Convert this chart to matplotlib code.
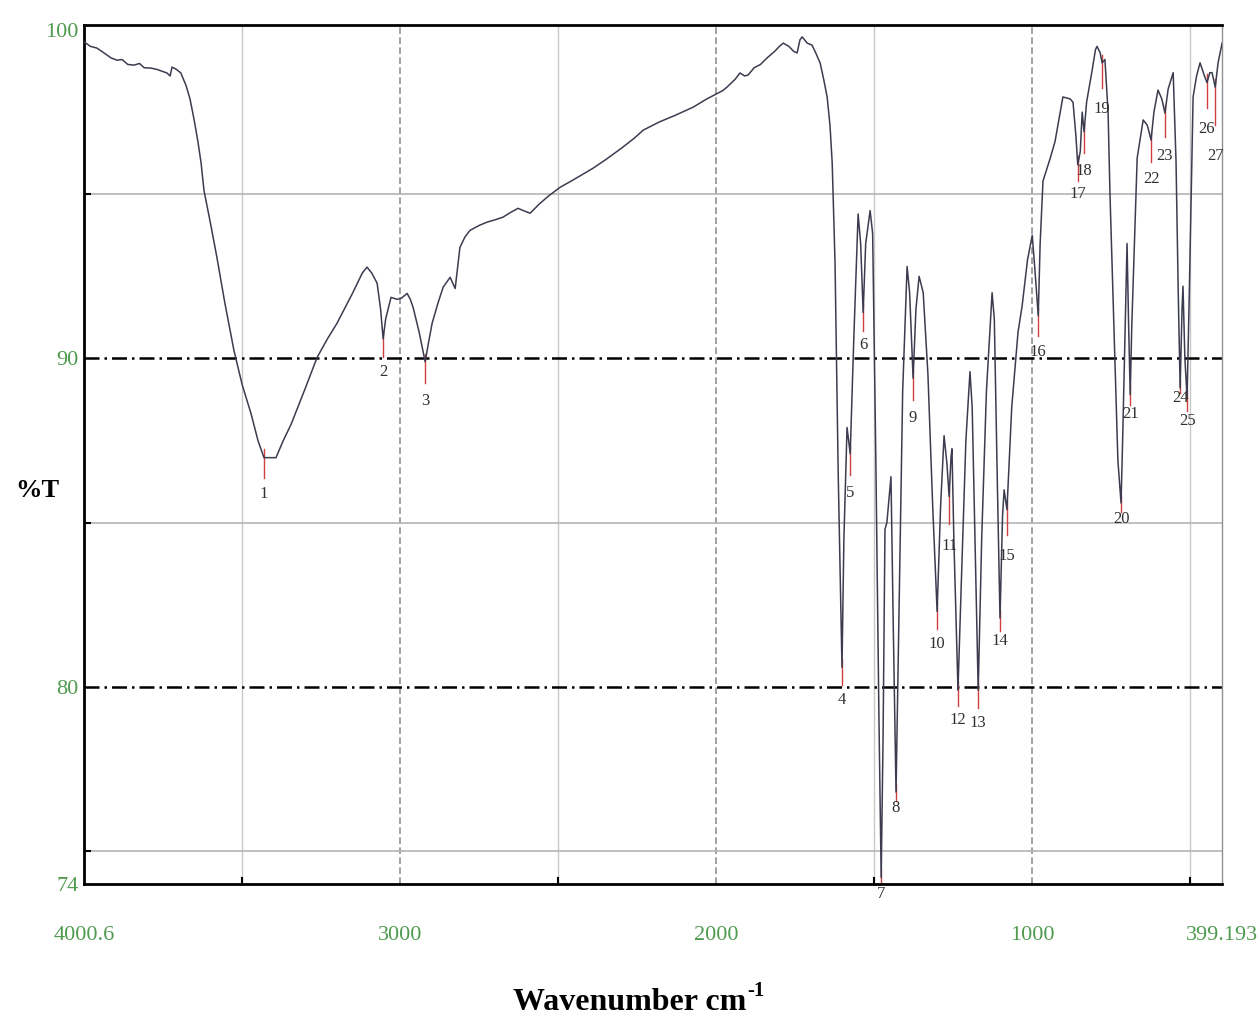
import matplotlib
matplotlib.use('Agg')
import matplotlib.pyplot as plt
import numpy as np

# IR spectrum: wavenumber (cm-1) and %T
wn = [4000.6, 3980, 3960, 3937, 3915, 3896, 3880, 3862, 3842, 3825, 3810, 3789, 3770, 3755,
      3738, 3728, 3722, 3708, 3694, 3686, 3678, 3665, 3652, 3640, 3630, 3621, 3600, 3580,
      3555, 3526, 3500, 3472, 3450, 3431, 3393, 3370, 3345, 3300, 3263, 3230, 3200, 3150,
      3120, 3105, 3090, 3073, 3062, 3054, 3046, 3029, 3010, 2997, 2978, 2968, 2959, 2940,
      2921, 2910, 2899, 2880, 2864, 2842, 2826, 2818, 2811, 2795, 2779, 2750, 2725, 2700,
      2675, 2650, 2627, 2610, 2589, 2560, 2530, 2494, 2450, 2390, 2350, 2300, 2260, 2231,
      2180, 2130, 2073, 2030, 2000, 1980, 1966, 1940, 1925, 1910, 1899, 1880, 1860, 1839,
      1815, 1800, 1788, 1770, 1755, 1744, 1735, 1728, 1712, 1697, 1685, 1671, 1660, 1649,
      1640, 1633, 1624, 1614, 1602, 1596, 1586, 1576, 1565, 1551, 1543, 1535, 1527, 1513,
      1505, 1495, 1485, 1478, 1472, 1466, 1460, 1447, 1440, 1431, 1422, 1410, 1396, 1388,
      1377, 1368, 1358, 1345, 1330, 1315, 1301, 1290, 1279, 1270, 1263, 1257, 1254, 1248,
      1235, 1225, 1210, 1197, 1190, 1180, 1171, 1160, 1145, 1127, 1120, 1110, 1102, 1094,
      1089, 1080, 1065, 1045, 1032, 1015, 1000, 990, 981, 975, 966, 943, 928, 903, 880,
      871, 862, 856, 848, 842, 836, 828, 810, 800, 795, 785, 779, 770, 760, 754, 738, 729,
      719, 714, 700, 695, 690, 685, 668, 649, 636, 624, 615, 602, 590, 580, 570, 554, 545,
      538, 532, 526, 523, 517, 510, 503, 491, 480, 469, 455, 447, 438, 431, 421, 412, 399.193]
T = [99.64, 99.5, 99.45, 99.3, 99.15, 99.08, 99.1, 98.95, 98.93, 98.98, 98.85, 98.84, 98.8, 98.75,
     98.69, 98.6, 98.87, 98.8, 98.69, 98.5, 98.32, 97.9, 97.26, 96.6, 95.95, 95.12, 94.1, 93.08,
     91.7, 90.24, 89.2, 88.32, 87.5, 86.98, 86.98, 87.5, 88.0, 89.1, 90.03, 90.6, 91.07, 92.0,
     92.6, 92.78, 92.6, 92.29, 91.5, 90.6, 91.2, 91.86, 91.8, 91.83, 91.98, 91.8, 91.55, 90.8,
     89.9, 90.5, 91.07, 91.7, 92.17, 92.47, 92.13, 92.8, 93.38, 93.7, 93.9, 94.05, 94.15, 94.22,
     94.3, 94.45, 94.57, 94.5, 94.42, 94.7, 94.95, 95.21, 95.45, 95.79, 96.05, 96.4, 96.7, 96.95,
     97.2, 97.4, 97.65, 97.9, 98.05, 98.15, 98.26, 98.5, 98.69, 98.6, 98.63, 98.85, 98.95, 99.15,
     99.35, 99.5, 99.6, 99.5, 99.35, 99.3, 99.7, 99.79, 99.6, 99.54, 99.3, 98.99, 98.5, 97.96,
     97.1, 95.95, 92.9, 86.5, 80.6, 84.5, 87.9, 87.1, 90.5, 94.4, 93.5, 91.4, 93.5, 94.5,
     93.8, 87.0, 79.0, 74.2, 78.5, 84.8, 85.0, 86.4, 82.0, 76.8, 82.0, 89.0, 92.8, 92.0,
     89.4, 91.5, 92.5, 92.0, 89.5, 85.5, 82.3, 85.5, 87.65, 86.8, 85.8, 87.0, 87.25, 84.5,
     79.9, 83.0, 87.5, 89.6, 88.5, 84.0, 79.9, 84.5, 89.0, 92.0, 91.2, 86.0, 82.1, 85.2,
     86.0, 85.4, 88.5, 90.8, 91.6, 93.0, 93.75, 92.5, 91.3, 93.5, 95.4, 96.1, 96.6, 97.96, 97.9,
     97.8, 96.8, 95.9, 96.3, 97.5, 96.9, 97.8, 98.8, 99.4, 99.5, 99.3, 99.0, 99.1, 97.5, 95.0, 89.85, 86.9,
     85.6, 87.5, 93.5, 91.0, 88.9, 91.0, 96.1, 97.26, 97.1, 96.65, 97.5, 98.17, 97.9, 97.47, 98.2, 98.7, 96.0,
     92.0, 89.1, 91.5, 92.2, 90.0, 88.8, 92.0, 97.96, 98.6, 99.0, 98.6, 98.4, 98.7, 98.7, 98.26, 99.0, 99.6]

# picked peaks and how far below the tip each number sits (in %T)
peak_wn = [3431, 3054, 2921, 1602, 1576, 1535, 1478, 1431, 1377, 1301, 1263, 1235, 1171, 1102,
           1080, 981, 856, 836, 779, 719, 690, 624, 580, 532, 510, 447, 421]
label_drop = [1.1, 1.0, 1.2, 1.0, 1.2, 1.0, 0.5, 0.5, 1.2, 1.0, 1.5, 0.9, 1.0, 0.7,
              1.4, 1.1, 0.9, 1.2, 1.4, 0.5, 0.6, 1.2, 1.3, 0.3, 0.7, 1.4, 2.1]

xticks = [4000.6, 3000, 2000, 1000, 399.193]
xtick_labels = ['4000.6', '3000', '2000', '1000', '399.193']
yticks = [74, 80, 90, 100]

fig = plt.figure(figsize=(12.59, 10.22), dpi=100)
ax = fig.add_axes([0.0667, 0.135, 0.904, 0.8405])

for g in [3500, 2500, 1500, 500]:
    ax.axvline(g, color='#c8c8c8', lw=1, zorder=0)
for g in [3000, 2000, 1000]:
    ax.axvline(g, color='#909090', lw=1.2, ls=(0, (4, 2)), zorder=0)
for g in [95, 85, 75]:
    ax.axhline(g, color='#b4b4b4', lw=1.2, zorder=0)
for g in [90, 80]:
    ax.axhline(g, color='black', lw=1.8, ls=(0, (6, 2, 1, 2)), zorder=0)

ax.plot(wn, T, color='#3c3c50', lw=1.1, zorder=3)

wn_r = np.array(wn[::-1])
T_r = np.array(T[::-1])
for i, (p, d) in enumerate(zip(peak_wn, label_drop)):
    tp = np.interp(p, wn_r, T_r)
    ax.plot([p, p], [tp + 0.25, tp - d * 0.55], color='#d04040', lw=1, zorder=2)
    ax.text(p, tp - d, str(i + 1), ha='center', va='center', fontsize=12,
            family='Liberation Serif', color='#303030', zorder=4)

ax.set_xlim(4000.6, 399.193)
ax.set_ylim(74, 100.15)
ax.set_xticks(xticks)
ax.set_xticklabels(xtick_labels)
ax.set_xticks([3500, 2500, 1500, 500], minor=True)
ax.set_yticks(yticks)
ax.set_yticks([95, 85, 75], minor=True)
ax.tick_params(axis='x', which='major', length=0, pad=30, labelsize=16, labelcolor='#4f9a4f')
ax.tick_params(axis='y', which='major', length=0, pad=4, labelsize=16, labelcolor='#4f9a4f')
ax.tick_params(which='minor', direction='in', length=5, width=1.5, color='black')
for lab in ax.get_xticklabels() + ax.get_yticklabels():
    lab.set_family('Liberation Serif')

for s in ['left', 'top', 'bottom']:
    ax.spines[s].set_linewidth(2)
    ax.spines[s].set_color('black')
ax.spines['right'].set_color('#909090')
ax.spines['right'].set_linewidth(1)

fig.text(0.030, 0.52, '%T', ha='center', va='center', family='Liberation Serif',
         fontsize=19, fontweight='bold')
xl = fig.text(0.5, 0.012, 'Wavenumber cm', ha='center', va='baseline',
              family='Liberation Serif', fontsize=23, fontweight='bold')
ax.annotate('-1', xy=(1, 1), xycoords=xl, xytext=(1, -2), textcoords='offset points',
            ha='left', va='center', family='Liberation Serif', fontsize=15,
            fontweight='bold', annotation_clip=False)

fig.savefig('out.png', dpi=100)
